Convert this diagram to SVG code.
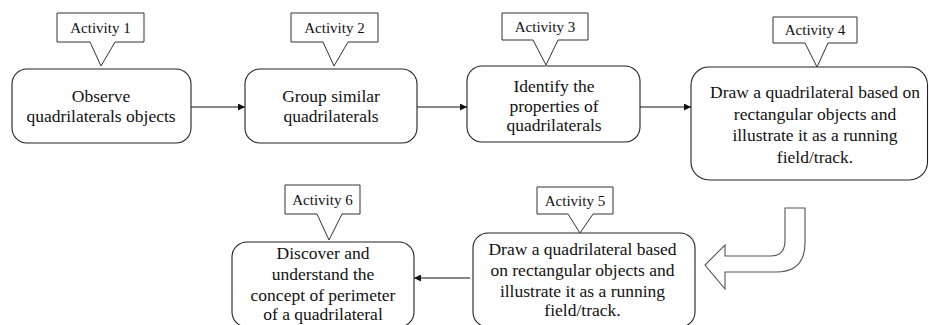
<svg xmlns="http://www.w3.org/2000/svg" width="929" height="325" viewBox="0 0 929 325">
<style>
.box{fill:#fff;stroke:#222;stroke-width:1.1}
.call{fill:#fff;stroke:#333;stroke-width:1}
.t{font-family:"Liberation Serif","Times New Roman",serif;font-size:17.5px;fill:#111;text-anchor:middle}
.lab{font-family:"Liberation Serif","Times New Roman",serif;font-size:15px;fill:#111;text-anchor:middle}
.ln{stroke:#111;stroke-width:1.1;fill:none}
.big{fill:#fff;stroke:#555;stroke-width:1.1}
</style>
<defs>
<marker id="ah" viewBox="0 0 10 10" refX="10" refY="5" markerWidth="8" markerHeight="7" markerUnits="userSpaceOnUse" orient="auto">
<path d="M0,0 L10,5 L0,10 Z" fill="#111"/>
</marker>
</defs>
<rect width="929" height="325" fill="#fff"/>
<g id="connectors">
<line class="ln" x1="191" y1="107" x2="245" y2="107" marker-end="url(#ah)"/>
<line class="ln" x1="417" y1="107" x2="467" y2="107" marker-end="url(#ah)"/>
<line class="ln" x1="640" y1="107" x2="691" y2="107" marker-end="url(#ah)"/>
<path class="big" d="M785,208 H805 V243 Q805,272 776,272 H725 V289 L705,265 L725,245 V256 H771 Q785,256 785,240 Z"/>
<line class="ln" x1="470" y1="278" x2="414" y2="278" marker-end="url(#ah)"/>
</g>
<g id="activity1">
<rect class="box" x="12" y="69" width="179" height="74" rx="15"/>
<text class="t" x="101" y="102">Observe</text>
<text class="t" x="101" y="122">quadrilaterals objects</text>
<path class="call" d="M57,13 H144 V42 H115 L101,66 L90,42 H57 Z"/>
<text class="lab" x="100.5" y="32.5">Activity 1</text>
</g>
<g id="activity2">
<rect class="box" x="245" y="69" width="172" height="74" rx="15"/>
<text class="t" x="331" y="102">Group similar</text>
<text class="t" x="331" y="122">quadrilaterals</text>
<path class="call" d="M291,13 H378 V42 H348 L334,66 L323,42 H291 Z"/>
<text class="lab" x="334.5" y="32.5">Activity 2</text>
</g>
<g id="activity3">
<rect class="box" x="467" y="66" width="173" height="76" rx="15"/>
<text class="t" x="554" y="92">Identify the</text>
<text class="t" x="554" y="111.5">properties of</text>
<text class="t" x="554" y="131">quadrilaterals</text>
<path class="call" d="M502,13 H588 V40 H558 L546,65 L533,40 H502 Z"/>
<text class="lab" x="545" y="31.5">Activity 3</text>
</g>
<g id="activity4">
<rect class="box" x="691" y="67" width="236.5" height="113" rx="18"/>
<text class="t" x="815" y="98">Draw a quadrilateral based on</text>
<text class="t" x="815" y="119.5">rectangular objects and</text>
<text class="t" x="815" y="141">illustrate it as a running</text>
<text class="t" x="815" y="162.5">field/track.</text>
<path class="call" d="M773,17 H857 V43 H828 L817,67 L805,43 H773 Z"/>
<text class="lab" x="815" y="35">Activity 4</text>
</g>
<g id="activity5">
<rect class="box" x="473" y="233" width="222" height="94" rx="15"/>
<text class="t" x="582.5" y="255">Draw a quadrilateral based</text>
<text class="t" x="582.5" y="275.5">on rectangular objects and</text>
<text class="t" x="582.5" y="296.5">illustrate it as a running</text>
<text class="t" x="582.5" y="316">field/track.</text>
<path class="call" d="M537,187 H613 V214 H593 L580,233 L568,214 H537 Z"/>
<text class="lab" x="575" y="205.5">Activity 5</text>
</g>
<g id="activity6">
<rect class="box" x="232" y="242" width="182" height="85" rx="15"/>
<text class="t" x="323" y="259">Discover and</text>
<text class="t" x="323" y="280">understand the</text>
<text class="t" x="323" y="300.5">concept of perimeter</text>
<text class="t" x="323" y="320">of a quadrilateral</text>
<path class="call" d="M285,185 H360 V214 H342 L329,240 L317,214 H285 Z"/>
<text class="lab" x="322.5" y="205">Activity 6</text>
</g>
</svg>
